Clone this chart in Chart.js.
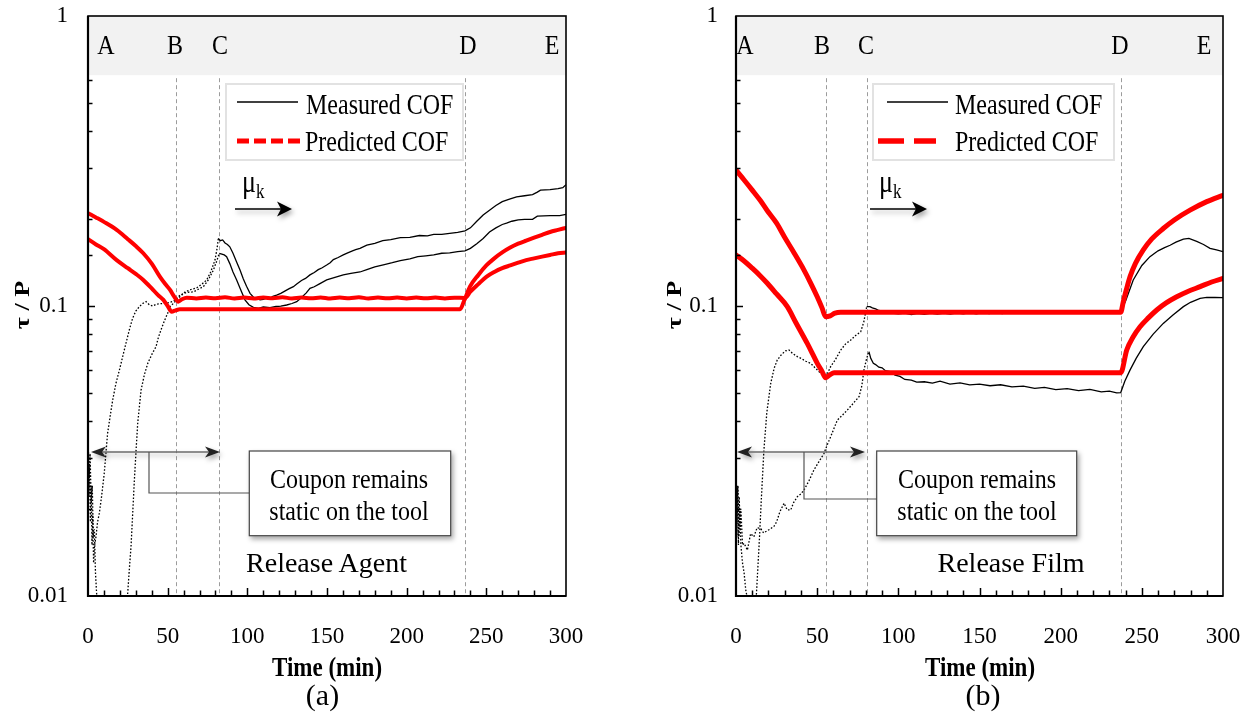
<!DOCTYPE html>
<html><head><meta charset="utf-8">
<script src="https://cdn.jsdelivr.net/npm/chart.js@4.4.1/dist/chart.umd.min.js"></script>
<style>
html,body{margin:0;padding:0;background:#fff;}
#wrap{position:relative;width:1251px;height:719px;overflow:hidden;font-family:"Liberation Serif","Times New Roman",serif;color:#000;}
canvas{position:absolute;top:0;}
svg{position:absolute;left:0;top:0;}
.t{position:absolute;white-space:nowrap;line-height:1;}
.c{transform:translate(-50%,-50%) scaleY(1.15);}
.l{transform-origin:left center;transform:translateY(-50%) scaleY(1.2);}
.b{font-weight:bold;}
sub{font-size:17px;vertical-align:-5px;line-height:0;}
</style></head><body>
<div id="wrap">
<canvas id="ca" width="620" height="719" style="left:0px"></canvas>
<canvas id="cb" width="611" height="719" style="left:640px"></canvas>
<svg width="1251" height="719">
<defs>
<filter id="sh" x="-30%" y="-60%" width="160%" height="260%"><feDropShadow dx="2" dy="3" stdDeviation="2.5" flood-color="#000" flood-opacity="0.35"/></filter>
</defs>
<rect x="226" y="84" width="237" height="76" fill="#fff" stroke="#e2e2e2" stroke-width="2"/>
<line x1="237" y1="102" x2="298" y2="102" stroke="#000" stroke-width="1.4"/>
<line x1="237" y1="141" x2="300" y2="141" stroke="#ff0000" stroke-width="5" stroke-dasharray="12 5"/>
<rect x="873" y="84" width="241" height="76" fill="#fff" stroke="#e2e2e2" stroke-width="2"/>
<line x1="887" y1="102" x2="948" y2="102" stroke="#000" stroke-width="1.4"/>
<line x1="878" y1="141" x2="904" y2="141" stroke="#ff0000" stroke-width="5.5"/>
<line x1="914" y1="141" x2="936" y2="141" stroke="#ff0000" stroke-width="5.5"/>
<g filter="url(#sh)"><line x1="235" y1="209" x2="284" y2="209" stroke="#000" stroke-width="1.5"/><path d="M292,209 L277,201.5 L281,209 L277,216.5 Z" fill="#000"/></g>
<g filter="url(#sh)"><line x1="870" y1="209" x2="919" y2="209" stroke="#000" stroke-width="1.5"/><path d="M927,209 L912,201.5 L916,209 L912,216.5 Z" fill="#000"/></g>
<g filter="url(#sh)"><line x1="100" y1="452" x2="212" y2="452" stroke="#6a6a6a" stroke-width="1.5"/><path d="M91,452 L106,446.5 L102,452 L106,457.5 Z" fill="#222"/><path d="M220,452 L205,446.5 L209,452 L205,457.5 Z" fill="#222"/></g>
<g filter="url(#sh)"><line x1="746" y1="452" x2="857" y2="452" stroke="#6a6a6a" stroke-width="1.5"/><path d="M737,452 L752,446.5 L748,452 L752,457.5 Z" fill="#222"/><path d="M865,452 L850,446.5 L854,452 L850,457.5 Z" fill="#222"/></g>
<path d="M149,452 V493 H249" fill="none" stroke="#555" stroke-width="1.2"/>
<path d="M804,452 V499 H877" fill="none" stroke="#555" stroke-width="1.2"/>
<rect x="249.3" y="451" width="201.4" height="84.7" fill="#fff" stroke="#444" stroke-width="1.2" filter="url(#sh)"/>
<rect x="876.7" y="451" width="200" height="84.7" fill="#fff" stroke="#444" stroke-width="1.2" filter="url(#sh)"/>
</svg>

<div class="t c" style="left:106px;top:45px;font-size:24px">A</div>
<div class="t c" style="left:175px;top:45px;font-size:24px">B</div>
<div class="t c" style="left:220px;top:45px;font-size:24px">C</div>
<div class="t c" style="left:468px;top:45px;font-size:24px">D</div>
<div class="t c" style="left:552px;top:45px;font-size:24px">E</div>
<div class="t l" style="left:306px;top:104px;font-size:24px">Measured COF</div>
<div class="t l" style="left:305px;top:141px;font-size:24px">Predicted COF</div>
<div class="t l" style="left:242px;top:182px;font-size:26px">μ<sub>k</sub></div>
<div class="t c" style="left:349px;top:479px;font-size:24px">Coupon remains</div>
<div class="t c" style="left:349px;top:511px;font-size:24px">static on the tool</div>
<div class="t" style="left:326.5px;top:562.5px;font-size:28px;transform:translate(-50%,-50%)">Release Agent</div>
<div class="t b" style="left:22px;top:305px;font-size:21px;transform:translate(-50%,-50%) rotate(-90deg) scaleX(1.25)">τ / P</div>
<div class="t c b" style="left:327px;top:667px;font-size:23px">Time (min)</div>
<div class="t" style="left:322.5px;top:695px;font-size:30px;transform:translate(-50%,-50%)">(a)</div>

<div class="t c" style="left:745px;top:45px;font-size:24px">A</div>
<div class="t c" style="left:822px;top:45px;font-size:24px">B</div>
<div class="t c" style="left:866px;top:45px;font-size:24px">C</div>
<div class="t c" style="left:1120px;top:45px;font-size:24px">D</div>
<div class="t c" style="left:1204px;top:45px;font-size:24px">E</div>
<div class="t l" style="left:955px;top:104px;font-size:24px">Measured COF</div>
<div class="t l" style="left:955px;top:141px;font-size:24px">Predicted COF</div>
<div class="t l" style="left:879px;top:182px;font-size:26px">μ<sub>k</sub></div>
<div class="t c" style="left:977px;top:479px;font-size:24px">Coupon remains</div>
<div class="t c" style="left:977px;top:511px;font-size:24px">static on the tool</div>
<div class="t" style="left:1011px;top:562.5px;font-size:28px;transform:translate(-50%,-50%)">Release Film</div>
<div class="t b" style="left:674px;top:305px;font-size:21px;transform:translate(-50%,-50%) rotate(-90deg) scaleX(1.25)">τ / P</div>
<div class="t c b" style="left:980px;top:667px;font-size:23px">Time (min)</div>
<div class="t" style="left:983px;top:695px;font-size:30px;transform:translate(-50%,-50%)">(b)</div>
</div>

<script>
// ---------- axis ticks ----------
const xTickLabels = [0, 50, 100, 150, 200, 250, 300];
const yTickValues = [0.01, 0.1, 1];
const yTickLabels = ['0.01', '0.1', '1'];

// ---------- event markers (min) ----------
const aMarkerTimes = [55.2, 82.2, 236.6];   // B, C, D
const bMarkerTimes = [55.4, 80.5, 237.0];

// ---------- Panel (a) Release Agent ----------
const aPredUpT = [0,5,10,18,25,30,34.7,40,45.2,48.5,51.5,54,56.7,59,62,68,74,80,86,92,98,104,110,116,122,128,134,140,146,152,158,164,170,176,182,188,194,200,206,212,218,224,230,236.6,240,245,250,255,260,265,270,275,280,285,290,295,300];
const aPredUpV = [0.209,0.202,0.195,0.183,0.170,0.161,0.152,0.140,0.126,0.119,0.1136,0.108,0.1035,0.1055,0.1068,0.1062,0.1070,0.1063,0.1071,0.1062,0.1069,0.1061,0.1070,0.1063,0.1071,0.1062,0.1069,0.1063,0.1070,0.1061,0.1069,0.1063,0.1071,0.1062,0.1069,0.1063,0.1070,0.1062,0.1070,0.1063,0.1069,0.1062,0.1068,0.1066,0.112,0.119,0.126,0.131,0.135,0.138,0.141,0.144,0.146,0.148,0.150,0.152,0.153];
const aPredLowT = [0,5,10,18,25,30,34.7,40,44,47.3,50,52.5,55,57.7,80,120,160,200,233.5,236,239.7,245,250,255,260,265,270,275,280,285,290,295,300];
const aPredLowV = [0.170,0.163,0.157,0.144,0.135,0.129,0.123,0.115,0.109,0.105,0.100,0.0956,0.0966,0.0974,0.0974,0.0974,0.0974,0.0974,0.0974,0.104,0.1166,0.128,0.138,0.146,0.153,0.159,0.164,0.168,0.172,0.176,0.180,0.183,0.186];

const aMeasUpStaticT = [0,0.7,1.3,2,2.7,3.3,4,4.7,5.5,6.5,8,22,24,24.9,26,27,28,29.1,30.2,31.2,33.3,35.4,37.5,40,42.7,44.2,45.8,48,50,51.5,53.5,54.6,57.7,60.9,64.5,68.2,71.5,74.5,77,79.7,81,81.8];
const aMeasUpStaticV = [0.036,0.026,0.031,0.021,0.024,0.016,0.017,0.012,0.010,0.008,0.006,0.006,0.0085,0.0102,0.0125,0.0148,0.019,0.0251,0.032,0.0394,0.0513,0.058,0.0634,0.068,0.0724,0.078,0.0827,0.089,0.0944,0.0995,0.102,0.1035,0.1076,0.1118,0.114,0.1155,0.119,0.123,0.131,0.144,0.158,0.171];
const aMeasUpT = [81.8,83,84.5,86,87.5,89,91,93,95.4,97.5,99.5,101.7,104,105.9,108,110,112,114,116,118.4,121,123.5,126,128.9,131,134,136.5,139.3,142,144.5,147,149.8,152,154,157,160.2,163,166,168,170.7,175,180,185,190,196,202,208,213,217,222,227,232,236.6,240,244,248,252,256,260,265,269,274,279,282,284,290,295,298,300];
const aMeasUpV = [0.171,0.168,0.169,0.165,0.163,0.160,0.152,0.143,0.133,0.124,0.117,0.1106,0.107,0.1063,0.105,0.1055,0.1065,0.1062,0.108,0.109,0.1105,0.1125,0.1145,0.1166,0.119,0.1225,0.1245,0.128,0.1305,0.1335,0.1355,0.1384,0.141,0.1445,0.147,0.150,0.1525,0.155,0.1565,0.158,0.162,0.1645,0.168,0.1695,0.172,0.1725,0.175,0.1745,0.1765,0.1765,0.178,0.1795,0.1815,0.186,0.196,0.206,0.214,0.222,0.229,0.234,0.238,0.240,0.242,0.247,0.251,0.252,0.254,0.256,0.262];

const aMeasLowStaticT = [0,0.5,1,1.5,2,2.5,3,3.5,4,5,6,7.1,8.5,10.2,12.3,14,15.5,17.5,19.7,21.8,23.8,26,28,30,32.2,34.3,36.4,38.5,40.6,43,46.9,50,52.9,55,57.7,62,66,69,72.4,75.5,78.7,80.8,82.4];
const aMeasLowStaticV = [0.030,0.022,0.028,0.018,0.024,0.015,0.019,0.013,0.0148,0.016,0.018,0.0193,0.022,0.0265,0.0364,0.042,0.0474,0.054,0.0601,0.067,0.0743,0.083,0.0907,0.096,0.0995,0.102,0.1035,0.101,0.100,0.1015,0.102,0.1025,0.1035,0.105,0.109,0.1115,0.1118,0.114,0.1166,0.123,0.133,0.143,0.152];
const aMeasLowT = [82.4,84,85.5,87,89,91,93.3,95.5,98.5,101,103.8,107,110,114.2,118,121,124.7,128,131,134,137,139.3,142,145,149.8,155,160.2,165,170.7,175,180,186,191,196,202,207,212,217,222,227,232,236.6,240,244,248,252,256,260,262.7,266,270,274,279,282,290,296,300];
const aMeasLowV = [0.152,0.151,0.150,0.148,0.140,0.131,0.123,0.115,0.105,0.101,0.0989,0.0982,0.0992,0.0987,0.0996,0.0999,0.1008,0.102,0.1035,0.107,0.111,0.115,0.1165,0.119,0.123,0.1255,0.128,0.1295,0.131,0.1335,0.1365,0.139,0.141,0.1435,0.1455,0.148,0.149,0.150,0.152,0.1525,0.154,0.155,0.158,0.164,0.171,0.180,0.186,0.191,0.193,0.196,0.198,0.199,0.199,0.204,0.205,0.205,0.207];

// ---------- Panel (b) Release Film ----------
const bPredUpT = [0,5,10,15,19.3,25,29.6,35,41.9,46,50.1,53,55.2,58,61,64.5,100,150,200,237,238.5,240.5,242.7,246,250.9,256,263.2,270,279.7,290,300];
const bPredUpV = [0.294,0.272,0.251,0.231,0.213,0.193,0.174,0.155,0.133,0.120,0.1074,0.0985,0.0918,0.0925,0.0945,0.0951,0.0951,0.0951,0.0951,0.0951,0.103,0.114,0.126,0.140,0.156,0.170,0.185,0.198,0.214,0.229,0.241];
const bPredLowT = [0,5,10,15,19.3,25,31.6,37,43.9,47,50.1,53,55.2,58,60.4,100,150,200,237,240.7,244.5,248.9,254,259.2,265,271.5,278,285.9,293,300];
const bPredLowV = [0.150,0.143,0.135,0.127,0.1198,0.110,0.0995,0.0874,0.0743,0.0687,0.0634,0.0595,0.0566,0.0580,0.0589,0.0589,0.0589,0.0589,0.0589,0.0705,0.078,0.0848,0.091,0.0969,0.1025,0.1076,0.112,0.1166,0.121,0.1245];

const bMeasUpStaticT = [0,0.6,1.2,1.8,2.4,3,4,5,6,7,8,10.5,12,12.6,14.5,15.5,17.2,19,21.4,23.5,25.4,28,30.5,32.6,35,37.8,40,43,46,49,52.2,55.2,58.3,61,64.5,67.5,70.7,73.5,76.8,78.7,80.5];
const bMeasUpStaticV = [0.025,0.018,0.024,0.016,0.020,0.015,0.013,0.012,0.0105,0.0098,0.007,0.007,0.0095,0.0102,0.016,0.021,0.0319,0.043,0.0541,0.061,0.0651,0.068,0.0700,0.0705,0.0685,0.0669,0.066,0.0645,0.0634,0.061,0.0586,0.0566,0.0618,0.065,0.0705,0.074,0.0763,0.079,0.0815,0.088,0.0995];
const bMeasUpT = [80.5,82.5,84,86,88,90,93,96,100,104,108,112,116,120,124,128,132,136,140,144,148,152,156,160,164,168,172,176,180,184,188,192,196,200,204,208,212,216,220,224,228,232,235,237,240,244.7,250,255,260,264,267.4,271,275.6,279,283.8,288,292,296,300];
const bMeasUpV = [0.0995,0.0995,0.0985,0.0978,0.0965,0.0960,0.0952,0.0946,0.0940,0.0946,0.0935,0.0944,0.0936,0.0945,0.0937,0.0946,0.0938,0.0947,0.0939,0.0948,0.0940,0.0949,0.0941,0.0950,0.0942,0.0951,0.0943,0.0950,0.0944,0.0952,0.0944,0.0951,0.0945,0.0952,0.0945,0.0953,0.0946,0.0953,0.0946,0.0954,0.0947,0.0953,0.0948,0.0955,0.104,0.123,0.138,0.148,0.155,0.159,0.162,0.166,0.170,0.171,0.167,0.163,0.158,0.156,0.154];

const bMeasLowStaticT = [0,0.5,1,1.5,2,2.5,3,4,5,7,9,11,13,15.2,17,19.3,21,23.4,25,27,29.6,31.5,33.7,35.5,37.8,40,41.9,45,48,51,54.2,56,58.3,60.5,62.4,65.5,68.6,72,75.8,77.5,78.8,80.5,81.9];
const bMeasLowStaticV = [0.026,0.016,0.024,0.015,0.022,0.017,0.020,0.015,0.0152,0.0144,0.0164,0.016,0.0172,0.0171,0.0165,0.0168,0.0170,0.0174,0.018,0.0195,0.0209,0.0198,0.0198,0.021,0.022,0.0225,0.0232,0.025,0.0272,0.029,0.031,0.033,0.0354,0.038,0.0404,0.042,0.0438,0.046,0.0487,0.053,0.0601,0.066,0.0696];
const bMeasLowT = [81.9,83,84.6,86,88,90,92,94.9,98,101,104,108,111.3,116,121,125.7,131.8,138,144,150,156.5,163,170,177,184,190,197,204,211,218,225,230,234.5,237,239.5,242.7,246.5,250.9,257,263.2,269,275.6,280,285.9,290,295,300];
const bMeasLowV = [0.0696,0.066,0.0634,0.0628,0.0615,0.0612,0.0598,0.0594,0.0578,0.0572,0.0558,0.0555,0.0546,0.0548,0.0542,0.0551,0.0538,0.0543,0.0535,0.0538,0.0531,0.0535,0.0526,0.0529,0.0520,0.0524,0.0515,0.0519,0.0511,0.0516,0.0506,0.0509,0.0502,0.0503,0.055,0.0601,0.066,0.0724,0.080,0.0871,0.093,0.0995,0.103,0.1063,0.107,0.107,0.1068];

// ---------- drawing ----------
const FONT = "'Liberation Serif','Times New Roman',serif";
const RED = '#ff0000';
const zip = (t, v) => t.map((x, i) => ({ x: x, y: v[i] }));
const isPow10 = v => Math.abs(Math.log10(v) - Math.round(Math.log10(v))) < 1e-6;
const noScalePad = s => { s.paddingTop = 0; s.paddingBottom = 0; s.paddingLeft = 0; s.paddingRight = 0; };

function decor(bandMin, markers) {
  return {
    id: 'decor',
    beforeDatasetsDraw(chart) {
      const { ctx, chartArea: a, scales: { x, y } } = chart;
      ctx.save();
      const yb = y.getPixelForValue(bandMin);
      ctx.fillStyle = '#f2f2f2';
      ctx.fillRect(a.left, a.top, a.right - a.left, yb - a.top);
      ctx.strokeStyle = '#9c9c9c';
      ctx.lineWidth = 1;
      ctx.setLineDash([4, 3]);
      markers.forEach(t => {
        const px = Math.round(x.getPixelForValue(t)) + 0.5;
        ctx.beginPath(); ctx.moveTo(px, yb + 3); ctx.lineTo(px, a.bottom); ctx.stroke();
      });
      ctx.restore();
    },
    afterDatasetsDraw(chart) {
      const { ctx, chartArea: a, scales: { x, y } } = chart;
      ctx.save();
      ctx.strokeStyle = '#000';
      ctx.lineWidth = 1.5;
      y.ticks.forEach(tk => {
        if (tk.value > bandMin || tk.value <= y.min) return;
        const py = Math.round(y.getPixelForValue(tk.value)) + 0.5;
        const len = isPow10(tk.value) ? 7 : 4.5;
        ctx.beginPath(); ctx.moveTo(a.left, py); ctx.lineTo(a.left + len, py); ctx.stroke();
      });
      x.ticks.forEach(tk => {
        if (tk.value <= x.min || tk.value >= x.max) return;
        const px = Math.round(x.getPixelForValue(tk.value)) + 0.5;
        const len = xTickLabels.includes(tk.value) ? 8 : 5.5;
        ctx.beginPath(); ctx.moveTo(px, a.bottom); ctx.lineTo(px, a.bottom - len); ctx.stroke();
      });
      ctx.lineWidth = 1.6;
      ctx.strokeRect(a.left, a.top, a.right - a.left, a.bottom - a.top);
      ctx.lineWidth = 2.2;
      ctx.beginPath(); ctx.moveTo(a.left, a.top); ctx.lineTo(a.left, a.bottom); ctx.lineTo(a.right, a.bottom); ctx.stroke();
      ctx.restore();
    }
  };
}

function makeChart(id, p) {
  const dotted = { borderColor: '#000', borderWidth: 1.3, borderDash: [1.6, 1.8], tension: 0 };
  const solid = { borderColor: '#000', borderWidth: 1.3, tension: 0 };
  const pred = { borderColor: RED, borderWidth: p.redW, cubicInterpolationMode: 'monotone', borderJoinStyle: 'round', borderCapStyle: 'round' };
  return new Chart(document.getElementById(id), {
    type: 'line',
    data: {
      datasets: [
        Object.assign({ label: 'Predicted COF', data: zip(p.predUpT, p.predUpV) }, pred),
        Object.assign({ label: 'Predicted COF 2', data: zip(p.predLowT, p.predLowV) }, pred),
        Object.assign({ label: 'Measured COF', data: zip(p.measUpT, p.measUpV) }, solid),
        Object.assign({ label: 'Measured COF 2', data: zip(p.measLowT, p.measLowV) }, solid),
        Object.assign({ label: 'Static 1', data: zip(p.measUpStaticT, p.measUpStaticV) }, dotted),
        Object.assign({ label: 'Static 2', data: zip(p.measLowStaticT, p.measLowStaticV) }, dotted)
      ]
    },
    options: {
      responsive: false,
      animation: false,
      events: [],
      layout: { padding: { top: 16, right: p.padRight, left: 0, bottom: 0 } },
      plugins: { legend: { display: false }, tooltip: { enabled: false } },
      elements: { point: { radius: 0 }, line: { fill: false } },
      scales: {
        x: {
          type: 'linear', min: 0, max: 300,
          afterFit: s => { s.height = 123; noScalePad(s); },
          grid: { display: false, drawTicks: false },
          border: { display: false },
          ticks: {
            stepSize: 10, autoSkip: false, maxRotation: 0, padding: 27,
            color: '#000', font: { family: FONT, size: 23 },
            callback: v => xTickLabels.includes(v) ? String(v) : ''
          }
        },
        y: {
          type: 'logarithmic', min: 0.01, max: 1,
          afterFit: s => { s.width = p.yAxisW; noScalePad(s); },
          grid: { display: false, drawTicks: false },
          border: { display: false },
          ticks: {
            autoSkip: false, padding: p.yPad,
            color: '#000', font: { family: FONT, size: 23 },
            callback: v => {
              const i = yTickValues.findIndex(t => Math.abs(t - v) < 1e-9);
              return i >= 0 ? yTickLabels[i] : '';
            }
          }
        }
      }
    },
    plugins: [decor(0.625, p.markers)]
  });
}

makeChart('ca', {
  redW: 4, padRight: 54, yAxisW: 88, yPad: 20, markers: aMarkerTimes,
  predUpT: aPredUpT, predUpV: aPredUpV, predLowT: aPredLowT, predLowV: aPredLowV,
  measUpT: aMeasUpT, measUpV: aMeasUpV, measLowT: aMeasLowT, measLowV: aMeasLowV,
  measUpStaticT: aMeasUpStaticT, measUpStaticV: aMeasUpStaticV,
  measLowStaticT: aMeasLowStaticT, measLowStaticV: aMeasLowStaticV
});
makeChart('cb', {
  redW: 5, padRight: 28, yAxisW: 96, yPad: 18, markers: bMarkerTimes,
  predUpT: bPredUpT, predUpV: bPredUpV, predLowT: bPredLowT, predLowV: bPredLowV,
  measUpT: bMeasUpT, measUpV: bMeasUpV, measLowT: bMeasLowT, measLowV: bMeasLowV,
  measUpStaticT: bMeasUpStaticT, measUpStaticV: bMeasUpStaticV,
  measLowStaticT: bMeasLowStaticT, measLowStaticV: bMeasLowStaticV
});
</script>
</body></html>
